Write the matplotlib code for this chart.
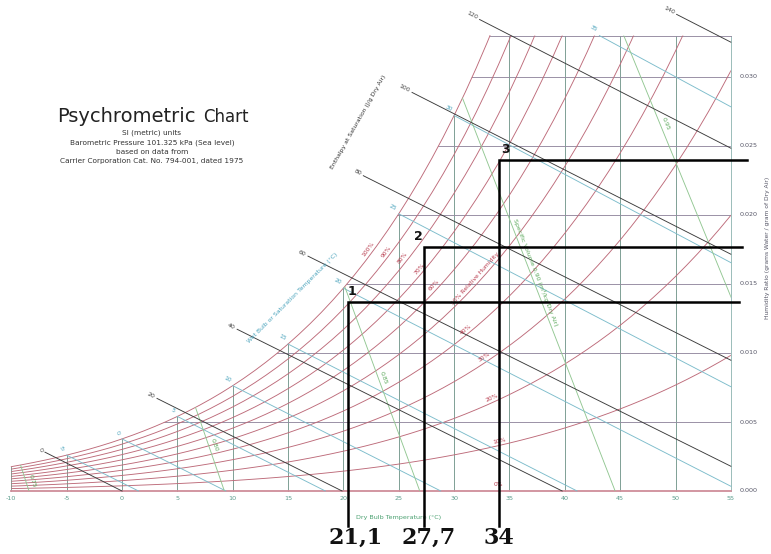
import numpy as np
import matplotlib
matplotlib.use("Agg")
import matplotlib.pyplot as plt

# ---------------- data ----------------
P_KPA = 101.325
table_t = list(range(-10, 56))
table_ps = [0.2865, 0.3101, 0.3352, 0.3620, 0.3906, 0.4216, 0.4547, 0.4900, 0.5277, 0.5679,
            0.6112, 0.6571, 0.7060, 0.7581, 0.8135, 0.8726, 0.9354, 1.0021, 1.0730, 1.1482,
            1.2282, 1.3129, 1.4028, 1.4981, 1.5989, 1.7057, 1.8188, 1.9383, 2.0647, 2.1982,
            2.3392, 2.4881, 2.6452, 2.8109, 2.9856, 3.1697, 3.3637, 3.5679, 3.7828, 4.0089,
            4.2467, 4.4966, 4.7592, 5.0351, 5.3247, 5.6286, 5.9475, 6.2818, 6.6324, 6.9997,
            7.3844, 7.7873, 8.2090, 8.6503, 9.1118, 9.5944, 10.099, 10.626, 11.177, 11.752,
            12.352, 12.978, 13.631, 14.312, 15.022, 15.762]

dry_bulb_ticks = [-10, -5, 0, 5, 10, 15, 20, 25, 30, 35, 40, 45, 50, 55]
w_ticks = [0.000, 0.005, 0.010, 0.015, 0.020, 0.025, 0.030]
w_top = 0.033

rh_levels = [10, 20, 30, 40, 50, 60, 70, 80, 90, 100]
rh_label_t = [34.2, 33.6, 33.0, 31.3, 32.2, 28.5, 27.2, 25.7, 24.2, 22.6]
rh_label_txt = ["10%", "20%", "30%", "40%", "50% Relative Humidity", "60%", "70%", "80%", "90%", "100%"]

wb_temps = [-5, 0, 5, 10, 15, 20, 25, 30, 35]

h_values = [0, 20, 40, 60, 80, 100, 120, 140]
h_start_t = [-6.96, 3.16, 10.4, 16.8, 21.8, 26.2, 32.3, 50.1]

v_values = [0.75, 0.80, 0.85, 0.90, 0.95]
v_label_t = [-8.7, 7.75, 23.0, 36.65, 48.45]
v_label_txt = ["0.75", "0.80", "0.85", "Specific Volume 0.90 (m\u00b3/kg Dry Air)", "0.95"]

mark_t = [20.45, 27.3, 34.1]
mark_w = [0.0137, 0.0177, 0.0240]
mark_right_t = [55.7, 56.0, 56.45]
mark_bottom_w = -0.0025
mark_names = ["1", "2", "3"]
value_labels = ["21,1", "27,7", "34"]
value_label_t = [21.1, 27.7, 34.0]

# ---------------- colours ----------------
C_RH = "#bd6a79"
C_RH_TXT = "#b83a4c"
C_DB = "#76998e"
C_W = "#948aa0"
C_WB = "#7cbccb"
C_WB_TXT = "#4aa3bc"
C_H = "#3a3a3a"
C_V = "#92c792"
C_V_TXT = "#5aa85a"
C_TICK_X = "#5a9c8c"
C_TICK_Y = "#555566"

# ---------------- helpers ----------------
T = np.array(table_t, dtype=float)
PS = np.array(table_ps)


def w_from_pw(pw):
    return 0.622 * pw / (P_KPA - pw)


WS = w_from_pw(PS)


def ws_at(t):
    return WS[table_t.index(t)]


fig = plt.figure(figsize=(7.71, 5.54), dpi=100)
ax = fig.add_axes([0, 0, 1, 1])
X0_PX, XS = 122.0, 11.07
Y0_PX, YS = 491.0, 13800.0
ax.set_xlim(-X0_PX / XS, (771 - X0_PX) / XS)
ax.set_ylim((Y0_PX - 554) / YS, Y0_PX / YS)
ax.axis("off")


def px_t(px):
    return (px - X0_PX) / XS


def px_w(py):
    return (Y0_PX - py) / YS


def ang(x0, y0, x1, y1):
    p0 = ax.transData.transform((x0, y0))
    p1 = ax.transData.transform((x1, y1))
    return np.degrees(np.arctan2(p1[1] - p0[1], p1[0] - p0[0]))


# chart region clip polygon
mask = WS < w_top
t_top = float(np.interp(w_top, WS, T))
sat_t = list(T[mask]) + [t_top]
sat_w = list(WS[mask]) + [w_top]
poly_xy = [(-10, 0)] + list(zip(sat_t, sat_w)) + [(55, w_top), (55, 0)]
clip = plt.Polygon(poly_xy, closed=True, transform=ax.transData, fill=False, lw=0)
ax.add_patch(clip)

LW = 0.65

# dry bulb verticals
for t in dry_bulb_ticks:
    top = min(ws_at(t), w_top)
    ax.plot([t, t], [0, top], color=C_DB if t < 55 else "#94b8b4", lw=LW, zorder=2)

# humidity ratio horizontals
for w in w_ticks[1:]:
    ln, = ax.plot([-10, 55], [w, w], color=C_W, lw=LW, zorder=2)
    ln.set_clip_path(clip)
ax.plot([t_top, 55], [w_top, w_top], color=C_W, lw=LW, zorder=2)

# relative humidity curves
for rh, lt, txt in zip(rh_levels, rh_label_t, rh_label_txt):
    if rh == 100:
        ax.plot(sat_t, sat_w, color=C_RH, lw=LW, zorder=3)
    else:
        w_curve = w_from_pw(rh / 100.0 * PS)
        ln, = ax.plot(T, w_curve, color=C_RH, lw=LW, zorder=3)
        ln.set_clip_path(clip)
    wl = w_from_pw(rh / 100.0 * np.interp(lt, T, PS))
    wl2 = w_from_pw(rh / 100.0 * np.interp(lt + 0.5, T, PS))
    a = ang(lt, wl, lt + 0.5, wl2)
    ax.annotate(txt, (lt, wl), xytext=(-1.6 * np.sin(np.radians(a)), 1.6 * np.cos(np.radians(a))),
                textcoords="offset points", rotation=a, rotation_mode="anchor",
                ha="center", va="bottom", fontsize=4.3, color=C_RH_TXT, zorder=6)
ax.plot([-10, 55], [0, 0], color="#cf8e9a", lw=1.3, zorder=3)
ax.text(34.0, 0.0003, "0%", fontsize=4.3, color=C_RH_TXT, ha="center", va="bottom", zorder=6)


# wet bulb lines
def wb_w(t, twb, ws):
    return ((2501 - 2.326 * twb) * ws - 1.006 * (t - twb)) / (2501 + 1.86 * t - 4.186 * twb)


for twb in wb_temps:
    ws = ws_at(twb)
    A = (2501 - 2.326 * twb) * ws
    B = 2501 - 4.186 * twb
    if ws > w_top:
        t0 = (A + 1.006 * twb - w_top * B) / (1.006 + 1.86 * w_top)
        w0 = w_top
    else:
        t0, w0 = twb, ws
    t1 = twb + A / 1.006
    w1 = 0.0
    if t1 > 55:
        t1, w1 = 55, wb_w(55, twb, ws)
    ax.plot([t0, t1], [w0, w1], color=C_WB, lw=LW, zorder=3)
    a = ang(t0, w0, t1, w1)
    ax.annotate(str(twb), (t0, w0), xytext=(-2.5, 2.0), textcoords="offset points",
                rotation=a, rotation_mode="anchor", ha="right", va="bottom",
                fontsize=4.3, color=C_WB_TXT, zorder=6)


# enthalpy lines
def h_w(t, h):
    return (h - 1.006 * t) / (2501 + 1.86 * t)


for h, ts in zip(h_values, h_start_t):
    t1 = h / 1.006
    w1 = 0.0
    if t1 > 55:
        t1, w1 = 55, h_w(55, h)
    w0 = h_w(ts, h)
    ax.plot([ts, t1], [w0, w1], color=C_H, lw=LW, zorder=4)
    a = ang(ts, w0, t1, w1)
    ax.annotate(str(h), (ts, w0), xytext=(-2.0 * np.cos(np.radians(a)), -2.0 * np.sin(np.radians(a))),
                textcoords="offset points", rotation=a, rotation_mode="anchor",
                ha="right", va="center", fontsize=4.5, color="#444444", zorder=6)


# specific volume lines
def v_w(t, v):
    return (v * P_KPA / (0.287042 * (t + 273.15)) - 1) / 1.6078


for v, lt, txt in zip(v_values, v_label_t, v_label_txt):
    tb = v * P_KPA / 0.287042 - 273.15
    tt = v * P_KPA / (0.287042 * (1 + 1.6078 * 0.034)) - 273.15
    ln, = ax.plot([tt, tb], [0.034, 0.0], color=C_V, lw=LW, zorder=3)
    ln.set_clip_path(clip)
    wl = v_w(lt, v)
    a = ang(tt, 0.034, tb, 0.0)
    dx = 5.0 if v != 0.90 else 6.0
    ax.annotate(txt, (lt, wl), xytext=(dx, 0.0),
                textcoords="offset points", rotation=a, rotation_mode="anchor",
                ha="center", va="center", fontsize=4.5, color=C_V_TXT, zorder=6)

# tick labels
for t in dry_bulb_ticks:
    ax.text(t, px_w(498), str(t), fontsize=4.6, color=C_TICK_X, ha="center", va="center")
for w in w_ticks:
    ax.text(px_t(740), w, "%.3f" % w, fontsize=4.6, color=C_TICK_Y, ha="left", va="center")

ax.text(25.0, px_w(518), "Dry Bulb Temperature (\u00b0C)", fontsize=4.6,
        color="#4aa070", ha="center", va="center")
fig.text(767 / 771, 1 - 248 / 554, "Humidity Ratio (grams Water / gram of Dry Air)",
         rotation=90, fontsize=4.3, color="#555566", ha="center", va="center")
fig.text(358 / 771, 1 - 122 / 554, "Enthalpy at Saturation (J/g Dry Air)", rotation=60.5,
         fontsize=4.4, color="#333333", ha="center", va="center")
fig.text(293 / 771, 1 - 298 / 554, "Wet Bulb or Saturation Temperature (\u00b0C)", rotation=45,
         fontsize=4.4, color=C_WB_TXT, ha="center", va="center")

# title block
fig.text(57 / 771, 1 - 122 / 554, "Psychrometric", fontsize=14, color="#222222",
         ha="left", va="baseline")
fig.text(203 / 771, 1 - 122 / 554, "Chart", fontsize=12, color="#222222",
         ha="left", va="baseline")
sub = ["SI (metric) units", "Barometric Pressure 101.325 kPa (Sea level)",
       "based on data from", "Carrier Corporation Cat. No. 794-001, dated 1975"]
for i, s in enumerate(sub):
    fig.text(152 / 771, 1 - (133 + 9.3 * i) / 554, s, fontsize=5.3, color="#333333",
             ha="center", va="center")

# black markup lines and labels
name_offsets = [(2.5, 3.0), (-4.0, 3.0), (4.5, 3.0)]
for t, w, tr, nm, off in zip(mark_t, mark_w, mark_right_t, mark_names, name_offsets):
    ax.plot([tr, t, t], [w, w, mark_bottom_w], color="black", lw=1.8, zorder=8,
            solid_joinstyle="miter")
    ax.annotate(nm, (t, w), xytext=off, textcoords="offset points", fontsize=9,
                fontweight="bold", ha="center", va="bottom", color="#111111", zorder=9)
for t, s in zip(value_label_t, value_labels):
    ax.text(t, px_w(538), s, fontsize=16, fontweight="bold", family="DejaVu Serif",
            ha="center", va="center", color="#111111", zorder=9)

fig.savefig("out.png", dpi=100)
